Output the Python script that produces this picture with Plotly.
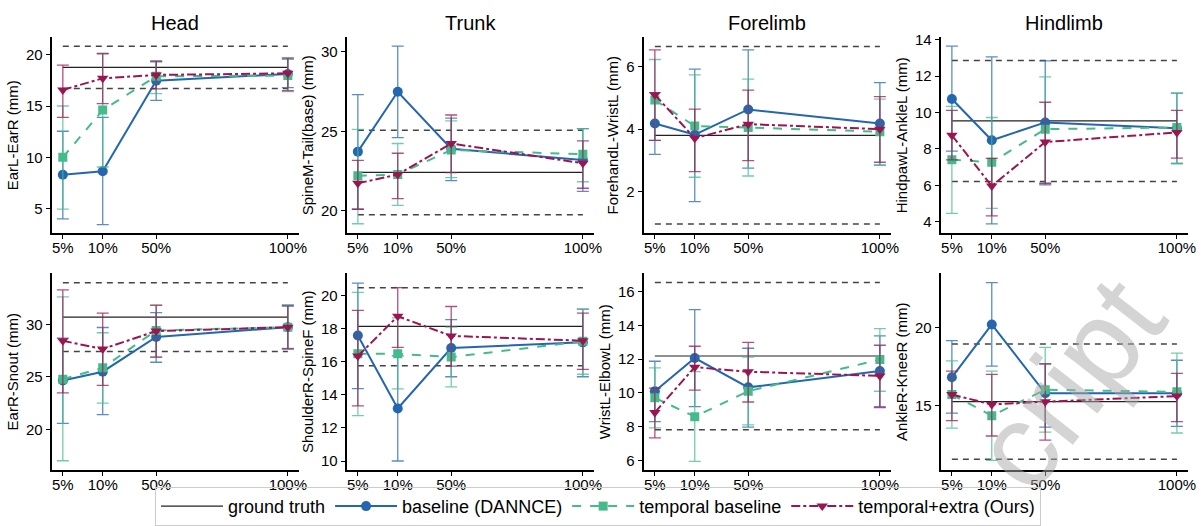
import plotly.graph_objects as go

# ---------------- data ----------------
fractions = ["5%", "10%", "50%", "100%"]
frac_pos = [0, 1, 2.34, 5.64]          # category positions on the x axis

col_titles = ["Head", "Trunk", "Forelimb", "Hindlimb"]
panel_labels = ["EarL-EarR (mm)", "SpineM-Tail(base) (mm)", "ForehandL-WristL (mm)", "HindpawL-AnkleL (mm)",
                "EarR-Snout (mm)", "ShoulderR-SpineF (mm)", "WristL-ElbowL (mm)", "AnkleR-KneeR (mm)"]

gt_value = [18.76, 22.42, 3.80, 9.55, 30.71, 18.15, 12.19, 15.27]
gt_low = [16.70, 19.76, 0.96, 6.21, 27.42, 15.76, 7.82, 11.60]
gt_high = [20.83, 25.06, 6.65, 12.86, 34.00, 20.49, 16.56, 18.96]

# baseline (DANNCE)
base_mean = [[8.29, 8.63, 17.46, 18.13], [23.72, 27.48, 23.90, 23.19], [4.18, 3.82, 4.63, 4.18], [10.75, 8.48, 9.46, 9.14],
             [24.66, 25.50, 28.82, 29.75], [17.59, 13.18, 16.84, 17.18], [10.10, 12.07, 10.33, 11.30], [16.83, 20.21, 15.81, 15.81]]
base_hi = [[12.54, 13.90, 19.30, 19.60], [27.30, 30.35, 25.83, 25.16], [5.17, 5.92, 6.54, 5.49], [13.66, 13.07, 12.84, 11.07],
           [28.70, 29.72, 31.15, 31.83], [20.77, 16.36, 18.56, 19.19], [11.88, 14.94, 12.65, 13.39], [19.17, 22.88, 17.69, 17.92]]
base_lo = [[4.00, 3.43, 15.56, 16.80], [20.10, 24.60, 21.90, 21.22], [3.19, 1.68, 2.75, 2.85], [7.88, 3.88, 6.02, 7.20],
           [20.56, 21.40, 26.40, 27.67], [14.38, 10.00, 15.10, 15.10], [8.30, 9.19, 7.97, 9.19], [14.54, 17.54, 13.65, 13.69]]

# temporal baseline
temp_mean = [[10.00, 14.60, 17.90, 17.97], [22.20, 22.28, 23.82, 23.56], [4.93, 4.10, 4.05, 3.92], [7.41, 7.27, 9.09, 9.18],
             [24.78, 25.87, 29.44, 29.75], [16.49, 16.49, 16.29, 17.24], [9.71, 8.59, 10.10, 11.98], [15.73, 14.38, 16.04, 15.90]]
temp_hi = [[15.00, 20.16, 19.40, 19.55], [25.12, 24.23, 25.65, 25.16], [6.23, 5.74, 5.60, 4.96], [10.34, 9.73, 11.96, 11.07],
           [32.64, 29.22, 31.83, 31.90], [20.20, 18.66, 18.10, 19.19], [11.49, 11.26, 12.13, 13.81], [17.88, 17.23, 18.75, 18.38]]
temp_lo = [[4.95, 9.05, 16.20, 16.40], [19.19, 20.35, 22.09, 21.83], [3.64, 2.46, 2.50, 2.85], [4.46, 4.73, 6.14, 7.20],
           [16.99, 22.50, 26.90, 27.73], [12.74, 14.36, 14.48, 15.25], [7.93, 5.94, 8.10, 10.10], [13.58, 11.52, 13.33, 13.27]]

# temporal+extra (Ours)
ours_mean = [[16.57, 17.70, 18.03, 18.19], [21.73, 22.28, 24.23, 22.99], [5.10, 3.71, 4.16, 4.00], [8.75, 5.96, 8.38, 8.91],
             [28.45, 27.67, 29.38, 29.75], [16.35, 18.76, 17.57, 17.28], [8.84, 11.53, 11.26, 11.01], [15.73, 15.10, 15.27, 15.63]]
ours_hi = [[18.98, 20.10, 19.37, 19.70], [23.17, 23.62, 26.02, 24.39], [6.54, 4.64, 5.25, 5.04], [10.12, 7.48, 10.57, 10.12],
           [33.32, 31.09, 31.86, 31.77], [19.11, 20.49, 19.35, 18.95], [10.29, 12.77, 13.00, 12.83], [17.23, 17.02, 17.69, 17.08]]
ours_lo = [[13.90, 15.24, 16.67, 16.50], [20.10, 20.77, 22.40, 21.42], [3.64, 2.64, 2.99, 2.94], [7.40, 4.32, 6.10, 7.50],
           [23.48, 24.19, 26.90, 27.67], [13.33, 16.88, 15.74, 15.54], [7.33, 10.16, 9.46, 9.13], [14.06, 13.08, 12.81, 14.00]]

y_ranges = [[2.6, 21.7], [18.6, 30.9], [0.67, 6.94], [3.37, 14.14],
            [16.1, 34.9], [9.45, 21.36], [5.42, 17.1], [10.9, 23.48]]
y_ticks = [[5, 10, 15, 20], [20, 25, 30], [2, 4, 6], [4, 6, 8, 10, 12, 14],
           [20, 25, 30], [10, 12, 14, 16, 18, 20], [6, 8, 10, 12, 14, 16], [15, 20]]

series_names = ["baseline (DANNCE)", "temporal baseline", "temporal+extra (Ours)"]

# ---------------- style ----------------
W, H = 1204, 526
FONT = "Liberation Sans, Arial, sans-serif"
colors = ["#2466b0", "#45bb8c", "#9b1550"]
err_colors = ["rgba(36,102,176,0.75)", "rgba(69,187,140,0.75)", "rgba(155,21,80,0.75)"]
dashes = ["solid", "dash", "dashdot"]
symbols = ["circle", "square", "triangle-down"]
col_left_px = [52, 349, 648, 947]
col_w_px = 249
row_px = [(32, 232), (273, 474)]
x_range = [-0.28, 5.92]

fig = go.Figure()
layout = {}

for p in range(8):
    r, c = divmod(p, 4)
    n = p + 1
    xa = "x" if n == 1 else f"x{n}"
    ya = "y" if n == 1 else f"y{n}"
    x0 = col_left_px[c] / W
    x1 = (col_left_px[c] + col_w_px) / W
    yt, yb = row_px[r]
    layout[f"xaxis{'' if n == 1 else n}"] = dict(
        domain=[x0, x1], anchor=ya, range=x_range,
        tickmode="array", tickvals=frac_pos, ticktext=fractions,
        showline=True, linecolor="black", linewidth=2,
        ticks="outside", ticklen=4, tickwidth=1, tickcolor="black",
        ticklabelstandoff=-4,
        showgrid=False, zeroline=False,
        tickfont=dict(size=15, color="black", family=FONT))
    layout[f"yaxis{'' if n == 1 else n}"] = dict(
        domain=[1 - yb / H, 1 - yt / H], anchor=xa, range=y_ranges[p],
        tickmode="array", tickvals=y_ticks[p],
        showline=True, linecolor="black", linewidth=2,
        ticks="outside", ticklen=4, tickwidth=1, tickcolor="black",
        showgrid=False, zeroline=False,
        tickfont=dict(size=15, color="black", family=FONT),
        title=dict(text=panel_labels[p], font=dict(size=15, color="black", family=FONT), standoff=4))

    xs = [frac_pos[0], frac_pos[-1]]
    # ground truth and band
    fig.add_trace(go.Scatter(x=xs, y=[gt_value[p]] * 2, mode="lines", xaxis=xa, yaxis=ya,
                             line=dict(color="#222222", width=1.2), name="ground truth",
                             showlegend=(p == 0), legendrank=1))
    for b in (gt_low[p], gt_high[p]):
        fig.add_trace(go.Scatter(x=xs, y=[b] * 2, mode="lines", xaxis=xa, yaxis=ya,
                                 line=dict(color="#444444", width=1.5, dash="6px,5px"),
                                 showlegend=False, hoverinfo="skip"))
    for s, (mean, hi, lo) in enumerate([(base_mean, base_hi, base_lo), (temp_mean, temp_hi, temp_lo),
                                        (ours_mean, ours_hi, ours_lo)]):
        m = mean[p]
        up = [h - v for h, v in zip(hi[p], m)]
        dn = [v - l for v, l in zip(m, lo[p])]
        fig.add_trace(go.Scatter(
            x=frac_pos, y=m, mode="lines+markers", xaxis=xa, yaxis=ya,
            name=series_names[s], showlegend=(p == 0), legendrank=2 + s,
            line=dict(color=colors[s], width=2, dash=dashes[s]),
            marker=dict(symbol=symbols[s], size=10 if s != 1 else 9, color=colors[s]),
            error_y=dict(type="data", symmetric=False, array=up, arrayminus=dn,
                         color=err_colors[s], thickness=1.3, width=6)))

annotations = []
for c, t in enumerate(col_titles):
    annotations.append(dict(text=t, x=(col_left_px[c] + col_w_px / 2) / W, y=1 - 17 / H,
                            xref="paper", yref="paper", showarrow=False,
                            font=dict(size=20, color="black", family=FONT),
                            xanchor="center", yanchor="middle"))
# faint watermark seen in the reference
annotations.append(dict(text="cript", x=1075 / W, y=1 - 385 / H, xref="paper", yref="paper",
                        showarrow=False, textangle=-52,
                        font=dict(size=120, color="rgba(170,170,170,0.5)", family=FONT),
                        xanchor="center", yanchor="middle"))

fig.update_layout(
    width=W, height=H,
    margin=dict(l=0, r=0, t=0, b=0),
    paper_bgcolor="white", plot_bgcolor="white",
    font=dict(family=FONT, color="black"),
    annotations=annotations,
    legend=dict(orientation="h", x=602 / W, xanchor="center", y=-5 / H, yanchor="bottom",
                font=dict(size=18, color="black", family=FONT),
                bordercolor="#cccccc", borderwidth=1, bgcolor="rgba(255,255,255,0)",
                itemwidth=62, traceorder="normal"),
    showlegend=True,
    **layout)

fig.write_html("out.html", config={"displayModeBar": False},
               post_script="document.body.style.margin='0';document.body.style.overflow='hidden';")
